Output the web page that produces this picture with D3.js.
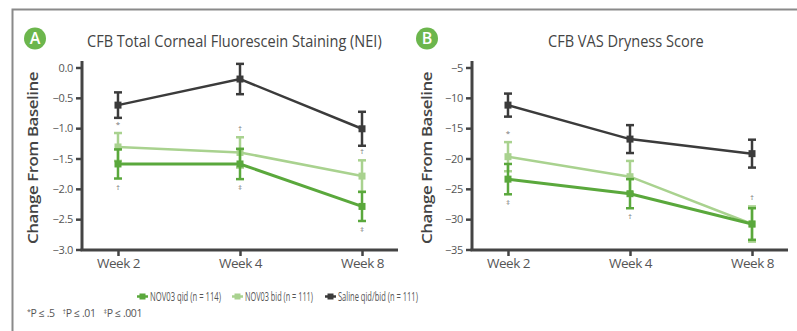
<!DOCTYPE html>
<html><head><meta charset="utf-8">
<script src="https://cdn.jsdelivr.net/npm/d3@7/dist/d3.min.js"></script>
<style>
body{margin:0;background:#fff;}
svg{display:block;font-family:"Open Sans",sans-serif;}
</style></head>
<body><svg id="c" width="797" height="331"></svg>
<script>
const weeks = ["Week 2", "Week 4", "Week 8"];
const seriesNames = ["NOV03 qid (n = 114)", "NOV03 bid (n = 111)", "Saline qid/bid (n = 111)"];

// Panel A: CFB Total Corneal Fluorescein Staining (NEI)
const aTicks = [0, -0.5, -1, -1.5, -2, -2.5, -3];
const aQid = [-1.59, -1.59, -2.29];
const aQidErr = [0.24, 0.25, 0.24];
const aBid = [-1.31, -1.40, -1.79];
const aBidErr = [0.23, 0.25, 0.26];
const aSal = [-0.62, -0.19, -1.01];
const aSalErr = [0.21, 0.25, 0.28];
const aQidSig = ["†", "‡", "‡"];
const aBidSig = ["*", "†", "†"];

// Panel B: CFB VAS Dryness Score
const bTicks = [-5, -10, -15, -20, -25, -30, -35];
const bQid = [-23.4, -25.8, -30.8];
const bQidErr = [2.5, 2.4, 2.6];
const bBid = [-19.7, -23.0, -30.8];
const bBidErr = [2.4, 2.6, 2.9];
const bSal = [-11.2, -16.8, -19.2];
const bSalErr = [1.9, 2.3, 2.3];
const bQidSig = ["‡", "†", ""];
const bBidSig = ["*", "", "†"];

const colors = ["#5aa83c", "#a9d28f", "#3b3b3b"];
const svg = d3.select("#c");

// frame
svg.append("path").attr("d", "M12.5,331 V9.5 H797").attr("fill", "none").attr("stroke", "#8a8a8a").attr("stroke-width", 2);

function squeezed(parent, x, y, w, size, txt, anchor, extra) {
  const gg = parent.append("g");
  const t = gg.append("text").attr("font-size", size).attr("fill", "#444").text(txt);
  if (extra) extra(t);
  const nat = t.node().getComputedTextLength();
  const s = w / nat;
  const dx = anchor === "middle" ? -w / 2 : 0;
  gg.attr("transform", `translate(${x + dx},${y}) scale(${s},1)`);
  return t;
}

function panel(opt) {
  const g = svg.append("g");
  const x = d3.scalePoint().domain(weeks).range([opt.x0, opt.x0 + 316]).padding(0.295);
  const y = d3.scaleLinear().domain([opt.ticks[opt.ticks.length - 1], opt.ticks[0]]).range([249.5, 67.5]);
  const axisColor = "#444";

  // badge
  g.append("circle").attr("cx", opt.badgeX).attr("cy", 38.5).attr("r", 11).attr("fill", "#6cb64d");
  g.append("text").attr("x", opt.badgeX).attr("y", 44).attr("text-anchor", "middle")
    .attr("font-size", 16).attr("font-weight", 600).attr("fill", "#fff").text(opt.badge);
  // title
  squeezed(g, opt.titleX, 47, opt.titleW, 15.5, opt.title, "middle");

  // y axis
  const ya = d3.axisLeft(y).tickValues(opt.ticks).tickSize(6).tickPadding(3).tickFormat(opt.fmt);
  const yg = g.append("g").attr("transform", `translate(${opt.x0},0)`).call(ya);
  yg.select(".domain").remove();
  yg.selectAll(".tick line").attr("stroke", axisColor).attr("stroke-width", 2.5);
  yg.selectAll(".tick text").attr("font-size", 11).attr("fill", "#555").attr("font-family", "Open Sans").attr("letter-spacing", -0.3);
  g.append("line").attr("x1", opt.x0).attr("x2", opt.x0).attr("y1", 61).attr("y2", 251)
    .attr("stroke", axisColor).attr("stroke-width", 3);

  // x axis
  const xa = d3.axisBottom(x).tickSize(6).tickPadding(2);
  const xg = g.append("g").attr("transform", `translate(0,250)`).call(xa);
  xg.select(".domain").remove();
  xg.selectAll(".tick line").attr("stroke", axisColor).attr("stroke-width", 2.5);
  xg.selectAll(".tick text").attr("font-size", 13.5).attr("fill", "#555").attr("font-family", "Open Sans").attr("letter-spacing", -0.5);
  g.append("line").attr("x1", opt.x0 - 1.5).attr("x2", opt.x0 + 316).attr("y1", 250).attr("y2", 250)
    .attr("stroke", axisColor).attr("stroke-width", 3);

  // y label
  g.append("text").attr("transform", `translate(${opt.labelX},158) rotate(-90)`).attr("text-anchor", "middle")
    .attr("font-size", 15).attr("font-weight", 600).attr("fill", "#444").attr("letter-spacing", -0.4)
    .attr("textLength", 172).attr("lengthAdjust", "spacingAndGlyphs").text("Change From Baseline");

  const series = [
    {v: opt.qid, e: opt.qidErr, c: colors[0], w: 3},
    {v: opt.bid, e: opt.bidErr, c: colors[1], w: 2.5},
    {v: opt.sal, e: opt.salErr, c: colors[2], w: 2.5}
  ];
  // draw bid first, then qid, then saline
  [1, 0, 2].forEach(i => {
    const s = series[i];
    const sg = g.append("g");
    sg.append("path").datum(s.v).attr("fill", "none").attr("stroke", s.c).attr("stroke-width", s.w)
      .attr("d", d3.line().x((d, j) => x(weeks[j])).y(d => y(d)));
    s.v.forEach((d, j) => {
      const cx = x(weeks[j]);
      sg.append("line").attr("x1", cx).attr("x2", cx).attr("y1", y(d + s.e[j])).attr("y2", y(d - s.e[j]))
        .attr("stroke", s.c).attr("stroke-width", 2.5);
      [d + s.e[j], d - s.e[j]].forEach(v => sg.append("line").attr("x1", cx - 4).attr("x2", cx + 4)
        .attr("y1", y(v)).attr("y2", y(v)).attr("stroke", s.c).attr("stroke-width", 2.5));
      sg.append("rect").attr("x", cx - 3.5).attr("y", y(d) - 3.5).attr("width", 7).attr("height", 7).attr("fill", s.c);
    });
  });

  // significance markers
  opt.bidSig.forEach((t, j) => {
    if (!t) return;
    g.append("text").attr("x", x(weeks[j])).attr("y", y(opt.bid[j] + opt.bidErr[j]) - 6).attr("text-anchor", "middle")
      .attr("font-size", 8).attr("fill", "#777").text(t);
  });
  opt.qidSig.forEach((t, j) => {
    if (!t) return;
    g.append("text").attr("x", x(weeks[j])).attr("y", y(opt.qid[j] - opt.qidErr[j]) + 11).attr("text-anchor", "middle")
      .attr("font-size", 8).attr("fill", "#777").text(t);
  });
}

panel({x0: 82, ticks: aTicks, fmt: d3.format(".1f"), qid: aQid, qidErr: aQidErr, bid: aBid, bidErr: aBidErr,
  sal: aSal, salErr: aSalErr, qidSig: aQidSig, bidSig: aBidSig, badge: "A", badgeX: 35,
  title: "CFB Total Corneal Fluorescein Staining (NEI)", titleX: 234.5, titleW: 295, labelX: 38});
panel({x0: 472, ticks: bTicks, fmt: d3.format("d"), qid: bQid, qidErr: bQidErr, bid: bBid, bidErr: bBidErr,
  sal: bSal, salErr: bSalErr, qidSig: bQidSig, bidSig: bBidSig, badge: "B", badgeX: 427,
  title: "CFB VAS Dryness Score", titleX: 626, titleW: 156, labelX: 432});

// legend
const legX = [137, 232, 325];
const legW = [71, 68, 80];
const leg = svg.append("g");
seriesNames.forEach((n, i) => {
  const lx = legX[i];
  leg.append("line").attr("x1", lx).attr("x2", lx + 11).attr("y1", 296.5).attr("y2", 296.5)
    .attr("stroke", colors[i]).attr("stroke-width", 2.5);
  leg.append("rect").attr("x", lx + 2.5).attr("y", 293.5).attr("width", 6).attr("height", 6).attr("fill", colors[i]);
  squeezed(leg, lx + 13, 301, legW[i], 12.5, n, "start", t => t.attr("fill", "#555"));
});

// footnote
const foot = [["*", "P ≤ .5"], ["†", "P ≤ .01"], ["‡", "P ≤ .001"]];
const ft = svg.append("text").attr("x", 27).attr("y", 317).attr("font-size", 10.5).attr("fill", "#555").attr("letter-spacing", -0.4);
foot.forEach((f, i) => {
  ft.append("tspan").attr("font-size", 7).attr("dy", -3).attr("dx", i ? 8 : 0).text(f[0]);
  ft.append("tspan").attr("dy", 3).text(f[1]);
});
</script></body></html>
